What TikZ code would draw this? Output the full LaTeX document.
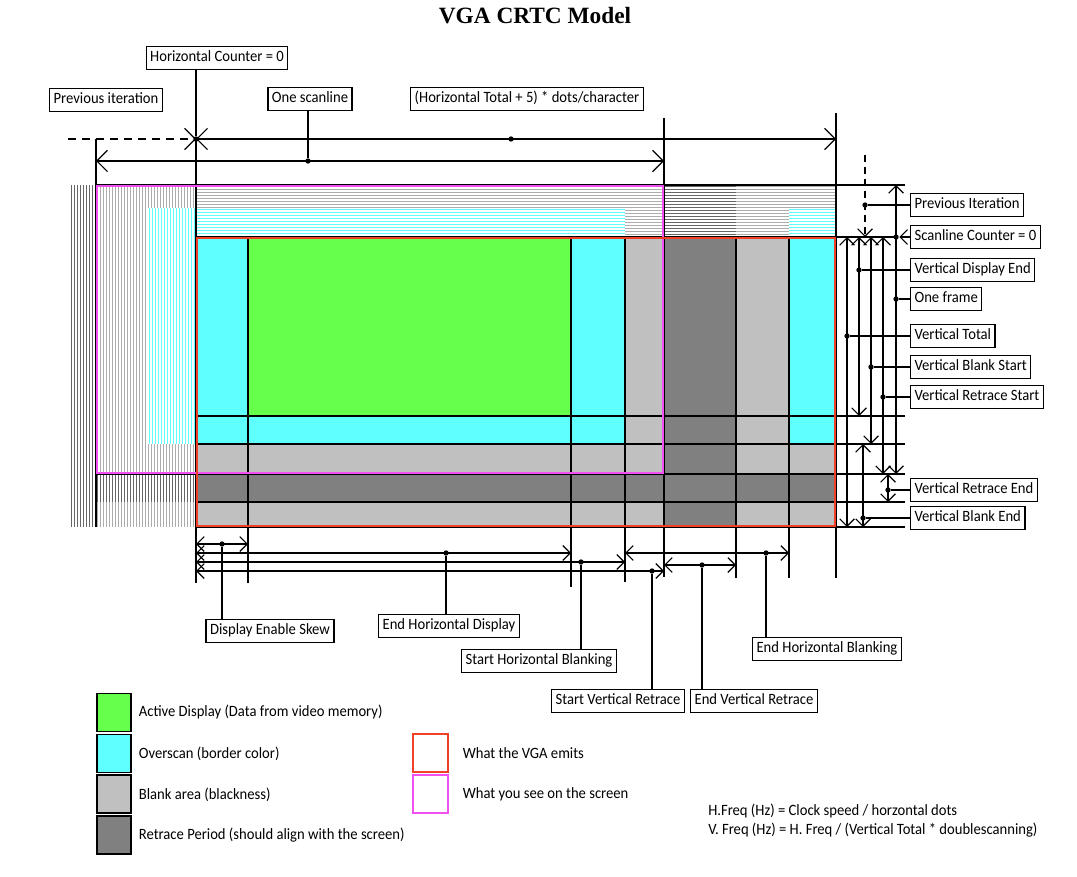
\documentclass[tikz,border=0pt]{standalone}
\usepackage{fontspec}
\setmainfont{Carlito}[FakeStretch=0.93]
\newfontfamily\titlefont{Liberation Serif}
\usetikzlibrary{arrows.meta,positioning}

\definecolor{activegreen}{RGB}{102,255,76}
\definecolor{overscan}{RGB}{96,255,255}
\definecolor{blankgray}{RGB}{192,192,192}
\definecolor{retracegray}{RGB}{128,128,128}
\definecolor{emitred}{RGB}{240,64,40}
\definecolor{screenmag}{RGB}{240,80,240}

% striped areas of the previous iteration
\newcommand\vstripes[5]{%
  \fill[white] (#2,#3) rectangle ({#2+#4},#5);
  \foreach \sx in {1.5,4.5,...,#4}
    \draw[line width=0.85pt,#1] ({#2+\sx},#3) -- ({#2+\sx},#5);}
\newcommand\hstripes[5]{%
  \fill[white] (#3,#2) rectangle (#5,{#2+#4});
  \foreach \sy in {1.5,4.5,...,#4}
    \draw[line width=0.85pt,#1] (#3,{#2+\sy}) -- (#5,{#2+\sy});}

\begin{document}
\begin{tikzpicture}[x=0.75pt,y=-0.75pt,line width=0.9pt,
  font=\fontsize{11.8}{14}\selectfont,
  >={Straight Barb[length=5.5pt,width=11pt]},
  bigtip/.style={>={Straight Barb[length=8pt,width=16pt]}},
  lbl/.style={draw,inner xsep=3pt,inner ysep=2pt,minimum height=17.5pt,text height=8.2pt,text depth=2.6pt},
  junction/.style={circle,fill,inner sep=0pt,minimum size=4pt},
  swatch/.style={draw,line width=1.4pt,minimum width=26pt,minimum height=28.5pt},
  keytext/.style={inner sep=2pt}]
\useasboundingbox (0,0) rectangle (1077,877);

\node[font=\titlefont\bfseries\fontsize{17.5}{20}\selectfont] (title) at (535,16) {VGA CRTC Model};

% previous iteration (left and top)
\vstripes{black!60,line width=1.1pt}{70}{185}{26}{527}
\vstripes{black!32}{96}{185}{100}{527}
\vstripes{overscan}{148}{208}{48}{444}
\vstripes{black!60,line width=1.1pt}{96}{474}{100}{502}
\hstripes{black!32}{185}{196}{52}{836}
\hstripes{overscan}{208}{196}{29}{625}
\hstripes{overscan}{208}{789}{29}{836}
\hstripes{black!60,line width=1.1pt}{185}{664}{52}{736}

% the frame
\fill[blankgray] (196,237) rectangle (836,527);
\fill[overscan] (196,237) rectangle (248,444) (571,237) rectangle (625,444)
  (789,237) rectangle (836,444) (248,416) rectangle (571,444);
\fill[activegreen] (248,237) rectangle (571,416);
\fill[retracegray] (664,237) rectangle (736,527) (196,474) rectangle (836,502);

\draw (196,139) -- (196,583) (96,139) -- (96,527) (664,118) -- (664,577) (836,113) -- (836,578);
\draw (248,237) -- (248,583) (571,237) -- (571,587) (625,237) -- (625,582)
  (736,237) -- (736,578) (789,237) -- (789,578);
\draw (96,185) -- (905,185) (96,474) -- (905,474) (196,237) -- (896,237);
\draw (196,416) -- (905,416) (196,444) -- (905,444) (196,502) -- (905,502) (196,527) -- (905,527);

\draw[screenmag,line width=1.2pt] (97,186) rectangle (663,473);
\draw[emitred,line width=1.2pt] (197,238) rectangle (835,526);

% horizontal dimensions, top
\draw[bigtip,->,dash pattern=on 6pt off 4.5pt] (68,139) -- (196,139);
\draw[bigtip,<->] (196,139) -- (836,139);
\draw[bigtip,<->] (96,161) -- (664,161);
\node[junction] (hczero) at (196,139) {};
\node[junction] (htdot) at (511,139) {};
\node[junction] (sldot) at (308,161) {};
\node[lbl] (hcount) at (217,58) {Horizontal Counter = 0};
\node[lbl] (previter) at (106,100) {Previous iteration};
\node[lbl] (scanline) at (310,99) {One scanline};
\node[lbl] (htotal) at (527,99) {(Horizontal Total + 5) * dots/character};
\draw (hcount.south -| hczero) -- (hczero);
\draw (scanline.south -| sldot) -- (sldot);

% vertical dimensions, right
\draw[->,dash pattern=on 5pt off 4pt] (865,155) -- (865,237);
\draw[<->] (896,185) -- (896,474);
\draw[<->] (847,237) -- (847,527);
\draw[<->] (859,237) -- (859,416);
\draw[<->] (871,237) -- (871,444);
\draw[<->] (883,237) -- (883,474);
\draw[<->] (888,474) -- (888,502);
\draw[<->] (863,444) -- (863,527);

\node[lbl,anchor=west] (previt) at (910,205) {Previous Iteration};
\node[lbl,anchor=west] (sczero) at (910,237) {Scanline Counter = 0};
\node[lbl,anchor=west] (vdispend) at (910,270) {Vertical Display End};
\node[lbl,anchor=west] (oneframe) at (910,299) {One frame};
\node[lbl,anchor=west] (vtotal) at (910,336) {Vertical Total};
\node[lbl,anchor=west] (vblankstart) at (910,367) {Vertical Blank Start};
\node[lbl,anchor=west] (vretstart) at (910,397) {Vertical Retrace Start};
\node[lbl,anchor=west] (vretend) at (910,490) {Vertical Retrace End};
\node[lbl,anchor=west] (vblankend) at (910,518) {Vertical Blank End};

\node[junction] (pidot) at (865,205) {};
\node[junction] (scdot) at (896,237) {};
\node[junction] (vdedot) at (859,270) {};
\node[junction] (ofdot) at (896,299) {};
\node[junction] (vtdot) at (847,336) {};
\node[junction] (vbsdot) at (871,367) {};
\node[junction] (vrsdot) at (883,397) {};
\node[junction] (vredot) at (888,490) {};
\node[junction] (vbedot) at (863,518) {};
\draw[->] (sczero) -- (scdot);
\foreach \d/\b in {pidot/previt,vdedot/vdispend,ofdot/oneframe,vtdot/vtotal,
  vbsdot/vblankstart,vrsdot/vretstart,vredot/vretend,vbedot/vblankend}
  \draw (\d) -- (\b);

% horizontal dimensions, bottom
\draw[<->] (196,544) -- (248,544);
\draw[<->] (196,553) -- (571,553);
\draw[<->] (196,562) -- (625,562);
\draw[<->] (196,571) -- (664,571);
\draw[<->] (625,553) -- (789,553);
\draw[<->] (664,565) -- (736,565);

\node[junction] (dskdot) at (222,544) {};
\node[junction] (ehddot) at (446,553) {};
\node[junction] (shbdot) at (581,562) {};
\node[junction] (svrdot) at (652,571) {};
\node[junction] (ehbdot) at (766,553) {};
\node[junction] (evrdot) at (702,565) {};
\node[lbl] (dskew) at (270,631) {Display Enable Skew};
\node[lbl] (ehdisp) at (449,626) {End Horizontal Display};
\node[lbl] (shblank) at (539,661) {Start Horizontal Blanking};
\node[lbl] (svret) at (618,701) {Start Vertical Retrace};
\node[lbl] (evret) at (754,701) {End Vertical Retrace};
\node[lbl] (ehblank) at (827,649) {End Horizontal Blanking};
\foreach \d/\b in {dskdot/dskew,ehddot/ehdisp,shbdot/shblank,svrdot/svret,
  evrdot/evret,ehbdot/ehblank}
  \draw (\d) -- (\d |- \b.north);

% legend
\node[swatch,fill=activegreen] (swactive) at (114,712.5) {};
\node[swatch,fill=overscan,below=0.8pt of swactive] (swover) {};
\node[swatch,fill=blankgray,below=0.8pt of swover] (swblank) {};
\node[swatch,fill=retracegray,below=0.8pt of swblank] (swretrace) {};
\node[keytext,right=2.5pt of swactive] (kactive) {Active Display (Data from video memory)};
\node[keytext,right=2.5pt of swover] (kover) {Overscan (border color)};
\node[keytext,right=2.5pt of swblank] (kblank) {Blank area (blackness)};
\node[keytext,right=2.5pt of swretrace] (kretrace) {Retrace Period (should align with the screen)};

\node[swatch,draw=emitred,line width=1.7pt] (swemit) at (430.5,753) {};
\node[swatch,draw=screenmag,line width=1.7pt,below=0.8pt of swemit] (swscreen) {};
\node[keytext,right=8pt of swemit] (kemit) {What the VGA emits};
\node[keytext,right=8pt of swscreen] (kscreen) {What you see on the screen};

\node[keytext,anchor=west] (hfreq) at (705,811) {H.Freq (Hz) = Clock speed / horzontal dots};
\node[keytext,anchor=west] (vfreq) at (705,830) {V. Freq (Hz) = H. Freq / (Vertical Total * doublescanning)};
\end{tikzpicture}
\end{document}
